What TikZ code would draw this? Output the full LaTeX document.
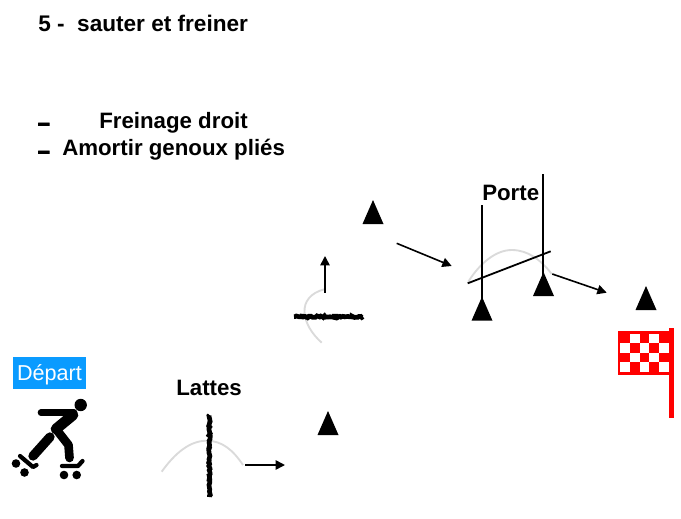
\documentclass[tikz,border=0pt]{standalone}
\usepackage{fontspec}
\usepackage{graphicx}
\setmainfont{Liberation Sans}
\usetikzlibrary{arrows.meta,decorations.pathmorphing}
\definecolor{departblue}{RGB}{10,155,255}
\definecolor{trackgrey}{RGB}{218,218,218}
\definecolor{flagred}{RGB}{255,0,0}
\tikzset{
  titletext/.style={anchor=base west,inner sep=0pt,font=\fontsize{16.7}{18}\selectfont\bfseries},
  trajet/.style={line width=1.2pt,-{Triangle[length=7pt,width=7pt]}},
  courbe/.style={color=trackgrey,line width=1.4pt},
  piquet/.style={line width=1.35pt},
  latte/.style={line width=3.5pt,decorate,decoration={random steps,segment length=1.1pt,amplitude=0.6pt}},
  membre/.style={line width=#1,line cap=round,line join=round},
  patin/.style={line width=3.2pt,line cap=round,line join=round},
  cone/.pic={\fill (0,12) -- (10.5,-12) -- (-10.5,-12) -- cycle;},
  caseblanche/.style={fill=white}
}
\begin{document}
\begin{tikzpicture}[x=0.75pt,y=0.75pt,yscale=-1,xscale=1]
\useasboundingbox (0,0) rectangle (681,518);

% Text Node
\node [titletext,font=\fontsize{16.95}{18}\selectfont\bfseries] (titre) at (38,31) {5 -\ \ sauter et freiner};
\node [titletext] (tiret1) at (37,130) {\scalebox{1.8}[1]{\addfontfeature{FakeBold=3}-}};
\node [titletext] (freinage) at (99,128.3) {Freinage droit};
\node [titletext] (tiret2) at (37,158) {\scalebox{1.8}[1]{\addfontfeature{FakeBold=3}-}};
\node [titletext] (amortir) at (62,155) {Amortir genoux pliés};
\node [titletext] (porte) at (482,200) {Porte};
\node [titletext] (lattes) at (176,395) {Lattes};

% Depart
\fill [departblue] (13,357) rectangle (86,389);
\node [anchor=base,inner sep=0pt,text=white,font=\fontsize{16.2}{18}\selectfont] (depart) at (49.5,380.7) {Départ};

% Skater
\fill (80.7,405) circle (6.2);
\draw [membre=5pt] (41,412.7) -- (74,412.7);
\draw [membre=8pt] (73,415) -- (56,429);
\draw [membre=6.5pt] (56,429) -- (68.5,445) -- (69.5,458);
\draw [membre=7pt] (50,437) -- (33,456);
\draw [patin] (20,456) -- (33,467) -- (36.5,465);
\fill (16,463.5) circle (4.3);
\fill (24.5,472.5) circle (4.3);
\draw [patin] (62,466) -- (78,466) -- (82.5,461);
\fill (64,475) circle (4.3);
\fill (76.7,475) circle (4.3);

% Curve Lines
\draw [courbe] (161.7,471.7) .. controls (175,453) and (190,440.7) .. (206.7,440.7) .. controls (222,440.7) and (233,450) .. (243,465);
\draw [courbe] (324.3,289.3) .. controls (310,293) and (304,302) .. (304.5,312) .. controls (305,323) and (312,334) .. (321.7,342.7);
\draw [courbe] (468.3,281.7) .. controls (480,263) and (496,250) .. (511.7,250) .. controls (528,250) and (541,260) .. (551.7,274);

% Lattes
\draw [latte] (209.5,415) -- (209.5,497);
\draw [latte] (294,316.7) -- (363,316.7);

% Porte
\draw [piquet] (482,205) -- (482,300);
\draw [piquet] (543,174) -- (543,275);
\draw [piquet] (467.7,283.3) -- (550.7,251.3);

% Cones
\pic at (373,212) {cone};
\pic at (328,423) {cone};
\pic at (482,308.7) {cone};
\pic at (543.5,284) {cone};
\pic at (646,298) {cone};

% Straight Lines
\draw [trajet] (245,465) -- (285,465);
\draw [trajet] (325,292.7) -- (325,256);
\draw [trajet] (396.7,243.3) -- (451.7,266);
\draw [trajet] (552.3,274) -- (606.7,292.7);

% Flag
\fill [flagred] (618,331) rectangle (670,375);
\fill [flagred] (669,328) rectangle (674,418);
\fill [caseblanche] (630,334) rectangle (640,343.3);
\fill [caseblanche] (649.3,334) rectangle (659,343.3);
\fill [caseblanche] (620,343.3) rectangle (630,352.7);
\fill [caseblanche] (640,343.3) rectangle (649.3,352.7);
\fill [caseblanche] (659,343.3) rectangle (669,352.7);
\fill [caseblanche] (630,352.7) rectangle (640,362.3);
\fill [caseblanche] (649.3,352.7) rectangle (659,362.3);
\fill [caseblanche] (620,362.3) rectangle (630,371.7);
\fill [caseblanche] (640,362.3) rectangle (649.3,371.7);
\fill [caseblanche] (659,362.3) rectangle (669,371.7);

\end{tikzpicture}
\end{document}
